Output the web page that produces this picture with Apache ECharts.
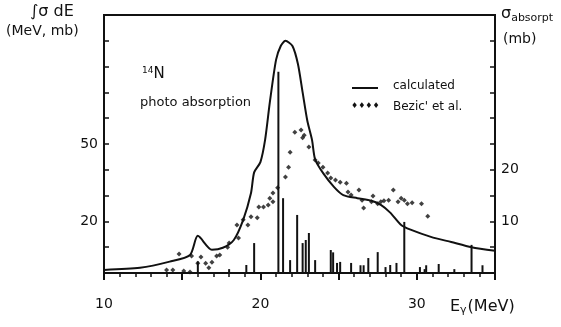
<!DOCTYPE html>
<html>
<head>
<meta charset="utf-8">
<script src="https://cdn.jsdelivr.net/npm/echarts@6/dist/echarts.min.js"></script>
<style>
  html, body { margin: 0; padding: 0; background: #fff; }
  #chart { width: 561px; height: 327px; }
</style>
</head>
<body>
<div id="chart"></div>
<script>
// calculated cross section (E in MeV, sigma in mb)
const calcE = [10, 12.3, 14.2, 15.5, 16.0, 16.9, 17.6, 18.3, 18.9, 19.4, 19.6, 20.0, 20.3, 20.6, 21.0, 21.3, 21.6, 22.05, 22.4, 22.7, 23.0, 23.3, 23.5, 24.0, 24.7, 25.3, 26.2, 27.1, 27.7, 28.3, 29.0, 29.6, 30.9, 32.2, 33.5, 35];
const calcSigma = [0.6, 1.0, 2.2, 3.5, 7.2, 4.5, 4.9, 6.4, 10.3, 15.5, 19.5, 21.5, 25.8, 33, 41.3, 44, 45, 44, 40.5, 35, 29.5, 25.8, 22, 19.4, 16.7, 15.1, 14.5, 14, 13.2, 11.7, 9.3, 8.4, 7, 6, 5, 4.3];

// Bezic et al. measured points
const bezicE = [14.0, 14.4, 15.1, 15.5, 14.8, 15.6, 16.2, 16.0, 16.5, 16.7, 16.9, 17.2, 17.4, 17.9, 18.0, 18.6, 18.5, 18.9, 19.2, 19.4, 19.8, 19.9, 20.2, 20.5, 20.6, 20.8, 20.8, 21.1, 21.6, 21.8, 21.9, 22.2, 22.6, 22.8, 22.7, 23.1, 23.5, 23.7, 24.0, 24.3, 24.5, 24.8, 25.1, 25.5, 25.6, 25.8, 26.3, 26.5, 26.6, 27.1, 27.2, 27.5, 27.7, 27.9, 28.2, 28.5, 28.8, 29.0, 29.2, 29.4, 29.7, 30.3, 30.7];
const bezicSigma = [0.6, 0.6, 0.4, 0.2, 3.7, 3.3, 3.1, 1.9, 1.9, 1.0, 2.1, 3.3, 3.5, 5.0, 5.8, 6.8, 9.3, 10.3, 9.3, 10.9, 10.7, 12.8, 12.8, 13.2, 14.5, 13.8, 15.5, 16.5, 18.6, 20.5, 23.4, 27.3, 27.7, 26.7, 26.2, 24.4, 21.9, 21.3, 20.5, 19.4, 18.4, 18.0, 17.6, 17.4, 15.7, 15.1, 16.1, 14.1, 12.6, 13.8, 14.9, 13.4, 13.8, 14.0, 14.1, 16.1, 13.8, 14.5, 14.1, 13.4, 13.6, 13.4, 11.0];

// transition strengths (E in MeV, integrated sigma in MeV mb)
const lineE = [16.0, 18.0, 19.1, 19.6, 21.15, 21.45, 21.9, 22.35, 22.7, 22.9, 23.1, 23.5, 24.5, 24.65, 24.9, 25.1, 25.8, 26.4, 26.6, 26.9, 27.5, 28.0, 28.3, 28.7, 29.2, 30.2, 30.5, 30.6, 31.4, 32.4, 33.5, 34.2];
const lineS = [4.5, 1.5, 3.1, 11.6, 78, 29, 5, 22.5, 11.6, 12.8, 15.5, 5, 8.9, 8, 3.9, 4.3, 3.9, 3, 3, 5.8, 8.1, 2.3, 3.1, 3.9, 19.8, 2.3, 1.5, 3, 3.5, 1.5, 10.9, 3];

const xTickLabels = [10, 20, 30];
const leftTickLabels = [20, 50];
const rightTickLabels = [10, 20];

const ink = '#111';
const font = 'DejaVu Sans';

const chart = echarts.init(document.getElementById('chart'));

const option = {
  backgroundColor: '#fff',
  animation: false,
  grid: {
    left: 104, right: 66, top: 15, bottom: 54,
    show: true, borderColor: ink, borderWidth: 2, backgroundColor: 'transparent'
  },
  xAxis: [
    {
      type: 'value', min: 10, max: 35, interval: 5, position: 'bottom', offset: 14,
      axisLine: { show: true, lineStyle: { color: ink, width: 2 } },
      axisTick: { show: true, inside: false, length: 7, lineStyle: { color: ink, width: 2 } },
      minorTick: { show: true, splitNumber: 5, length: 4, lineStyle: { color: ink, width: 1.5 } },
      splitLine: { show: false },
      axisLabel: {
        margin: 10, color: ink, fontFamily: font, fontSize: 14,
        formatter: v => (xTickLabels.includes(v) ? String(v) : '')
      }
    },
    {
      type: 'value', min: 10, max: 35, interval: 5, position: 'top',
      axisLine: { show: false },
      axisTick: { show: true, inside: true, length: 6, lineStyle: { color: ink, width: 1.5 } },
      minorTick: { show: true, splitNumber: 5, length: 4, lineStyle: { color: ink, width: 1.5 } },
      splitLine: { show: false },
      axisLabel: { show: false }
    }
  ],
  yAxis: [
    {
      type: 'value', min: 0, max: 100, interval: 10, position: 'left',
      axisLine: { show: false },
      axisTick: { show: true, inside: true, length: 5, lineStyle: { color: ink, width: 1.5 } },
      splitLine: { show: false },
      axisLabel: {
        margin: 6, color: ink, fontFamily: font, fontSize: 14,
        formatter: v => (leftTickLabels.includes(v) ? String(v) : '')
      }
    },
    {
      type: 'value', min: 0, max: 50, interval: 5, position: 'right',
      axisLine: { show: false },
      axisTick: { show: true, inside: true, length: 5, lineStyle: { color: ink, width: 1.5 } },
      splitLine: { show: false },
      axisLabel: {
        margin: 6, color: ink, fontFamily: font, fontSize: 14,
        formatter: v => (rightTickLabels.includes(v) ? String(v) : '')
      }
    }
  ],
  series: [
    {
      type: 'bar', xAxisIndex: 0, yAxisIndex: 0,
      data: lineE.map((e, i) => [e, lineS[i]]),
      barWidth: 2, barGap: '-100%',
      itemStyle: { color: ink }
    },
    {
      type: 'line', xAxisIndex: 0, yAxisIndex: 1,
      data: calcE.map((e, i) => [e, calcSigma[i]]),
      smooth: 0.25, showSymbol: false,
      lineStyle: { color: ink, width: 2 }
    },
    {
      type: 'scatter', xAxisIndex: 0, yAxisIndex: 1,
      data: bezicE.map((e, i) => [e, bezicSigma[i]]),
      symbol: 'diamond', symbolSize: 5,
      itemStyle: { color: ink }
    }
  ],
  graphic: [
    { type: 'text', left: 30, top: 4, style: { text: '∫σ dE', fill: ink, font: '16px "DejaVu Sans"' } },
    { type: 'text', left: 6, top: 24, style: { text: '(MeV, mb)', fill: ink, font: '14px "DejaVu Sans"' } },
    { type: 'text', left: 501, top: 6, style: {
        text: '{a|σ}{b|absorpt}', fill: ink,
        rich: { a: { fontFamily: font, fontSize: 16, color: ink }, b: { fontFamily: font, fontSize: 11, color: ink, padding: [8, 0, 0, 0] } }
      } },
    { type: 'text', left: 503, top: 32, style: { text: '(mb)', fill: ink, font: '14px "DejaVu Sans"' } },
    { type: 'text', left: 142, top: 66, style: {
        text: '{s|14}{n|N}', fill: ink,
        rich: { s: { fontFamily: font, fontSize: 9, color: ink, padding: [0, 0, 8, 0] }, n: { fontFamily: font, fontSize: 15, color: ink } }
      } },
    { type: 'text', left: 140, top: 96, style: { text: 'photo absorption', fill: ink, font: '13px "DejaVu Sans"' } },
    { type: 'line', shape: { x1: 352, y1: 88, x2: 378, y2: 88 }, style: { stroke: ink, lineWidth: 2 } },
    { type: 'text', left: 393, top: 80, style: { text: 'calculated', fill: ink, font: '12px "DejaVu Sans"' } },
    { type: 'text', left: 351, top: 102, style: { text: '♦♦♦♦', fill: ink, font: '8px "DejaVu Sans"' } },
    { type: 'text', left: 393, top: 101, style: { text: "Bezic' et al.", fill: ink, font: '12px "DejaVu Sans"' } },
    { type: 'text', left: 450, top: 299, style: {
        text: '{e|E}{g|γ}{e|(MeV)}', fill: ink,
        rich: { e: { fontFamily: font, fontSize: 16, color: ink }, g: { fontFamily: font, fontSize: 11, color: ink, padding: [7, 1, 0, 0] } }
      } }
  ]
};

chart.setOption(option);
</script>
</body>
</html>
